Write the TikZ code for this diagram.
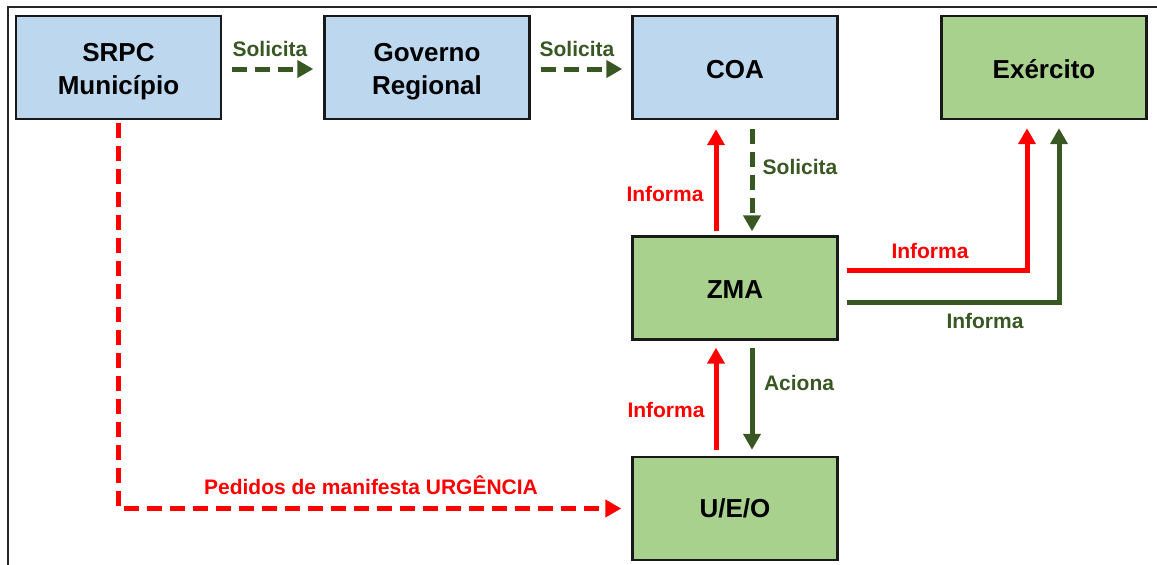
\documentclass[tikz,border=0pt]{standalone}
\usepackage{fontspec}
\setmainfont{Liberation Sans}
\usetikzlibrary{arrows.meta,calc}
\definecolor{boxblue}{RGB}{189,215,238}
\definecolor{boxgreen}{RGB}{169,209,142}
\definecolor{dgreen}{RGB}{56,87,35}
\definecolor{myred}{RGB}{255,0,0}
\newcommand{\twolines}[2]{\raisebox{-4pt}[\height][\depth]{\begin{tabular}{@{}c@{}}#1\\#2\end{tabular}}}
\newcommand{\oneline}[1]{\raisebox{-2pt}[\height][\depth]{#1}}
\tikzset{
  box/.style={draw=black!90, line width=2.4pt, minimum width=205pt, minimum height=103pt,
    inner sep=0pt, align=center, font=\fontsize{26}{33}\selectfont\bfseries},
  bluebox/.style={box, fill=boxblue},
  greenbox/.style={box, fill=boxgreen},
  conn/.style={line width=5pt, -{Triangle[length=16pt,width=17pt]}},
  garrow/.style={conn, draw=dgreen},
  rarrow/.style={conn, draw=myred},
  dsh/.style={dash pattern=on 15pt off 8pt},
  lbl/.style={font=\fontsize{21}{25}\selectfont\bfseries, inner sep=0pt},
  glbl/.style={lbl, text=dgreen},
  rlbl/.style={lbl, text=myred},
}
\begin{document}
\begin{tikzpicture}[x=1pt,y=-1pt]
\useasboundingbox (0,0) rectangle (1157,565);
% frame
\draw[line width=2.5pt, black!85] (8,566) -- (8,7) -- (1158,7);
% boxes
\node[bluebox] (srpc) at (118.5,67.5) {\twolines{SRPC}{Município}};
\node[bluebox] (gov) at (427,67.5) {\twolines{Governo}{Regional}};
\node[bluebox] (coa) at (735,67.5) {\oneline{COA}};
\node[greenbox] (exe) at (1044,67.5) {\oneline{Exército}};
\node[greenbox] (zma) at (735,288) {\oneline{ZMA}};
\node[greenbox] (ueo) at (735,508.5) {U/E/O};
% top row
\draw[garrow,dsh,shorten <=10pt,shorten >=10pt] (srpc.east) ++(0,1.5) coordinate (a1) -- (a1 -| gov.west);
\node[glbl] (l1) at (270,49) {Solicita};
\draw[garrow,dsh,shorten <=10pt,shorten >=9pt] (gov.east) ++(0,1.5) coordinate (a2) -- (a2 -| coa.west);
\node[glbl] (l2) at (577,49) {Solicita};
% COA <-> ZMA
\draw[rarrow,shorten <=4pt,shorten >=9pt] ($(zma.north)+(-19,0)$) -- ($(coa.south)+(-19,0)$);
\draw[garrow,dsh,shorten <=9pt,shorten >=4pt] ($(coa.south)+(17,0)$) -- ($(zma.north)+(17,0)$);
\node[rlbl] (l3) at (665,194) {Informa};
\node[glbl] (l4) at (800,167) {Solicita};
% ZMA <-> U/E/O
\draw[rarrow,shorten <=6pt,shorten >=7pt] ($(ueo.north)+(-19,0)$) -- ($(zma.south)+(-19,0)$);
\draw[garrow,shorten <=7pt,shorten >=6pt] ($(zma.south)+(17,0)$) -- ($(ueo.north)+(17,0)$);
\node[rlbl] (l5) at (666,410) {Informa};
\node[glbl] (l6) at (799,383) {Aciona};
% ZMA -> Exercito
\draw[rarrow,line join=miter,shorten <=8pt,shorten >=8pt] ($(zma.east)+(0,-18)$) -| ($(exe.south)+(-17,0)$);
\draw[garrow,line join=miter,shorten <=8pt,shorten >=8pt] ($(zma.east)+(0,14)$) -| ($(exe.south)+(15,0)$);
\node[rlbl] (l7) at (930,251) {Informa};
\node[glbl] (l8) at (985,321) {Informa};
% SRPC -> U/E/O
\draw[rarrow,dsh,line join=miter,shorten <=3pt,shorten >=10pt] (srpc.south) |- (ueo.west);
\node[rlbl] (l9) at (371,485) {Pedidos de manifesta URGÊNCIA};
\end{tikzpicture}
\end{document}
